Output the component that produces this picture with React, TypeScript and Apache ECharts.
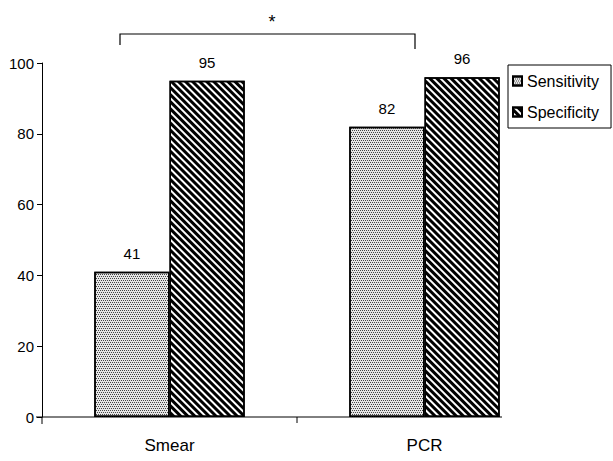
import React, { useEffect, useRef } from "react";
import * as echarts from "echarts";

const categories = ["Smear", "PCR"];
const sensitivity = [41, 82];
const specificity = [95, 96];
const seriesNames = ["Sensitivity", "Specificity"];
const yTicks = { min: 0, max: 100, interval: 20 };

export default function App() {
  const ref = useRef<HTMLDivElement>(null);
  useEffect(() => {
    if (!ref.current) return;
    const chart = echarts.init(ref.current, null, { renderer: "svg" });
    const font = "'Liberation Sans', Arial, sans-serif";
    const label = {
      show: true,
      position: "top" as const,
      distance: 11,
      color: "#000",
      fontSize: 15,
      fontFamily: font,
    };
    chart.setOption({
      animation: false,
      backgroundColor: "#fff",
      grid: { left: 42, right: 61, top: 63, bottom: 44, containLabel: false },
      legend: {
        orient: "vertical",
        left: 508,
        top: 65,
        itemWidth: 9,
        itemHeight: 9,
        itemGap: 15,
        padding: [8, 12, 8, 4],
        borderColor: "#000",
        borderWidth: 1,
        textStyle: { color: "#000", fontSize: 16, fontFamily: font },
        data: seriesNames.map((n) => ({ name: n, icon: "rect" })),
      },
      xAxis: {
        type: "category",
        data: categories,
        axisLine: { show: false },
        axisTick: { show: false },
        axisLabel: { color: "#000", fontSize: 17, fontFamily: font, margin: 20 },
      },
      yAxis: {
        type: "value",
        min: yTicks.min,
        max: yTicks.max,
        interval: yTicks.interval,
        splitLine: { show: false },
        axisLine: { show: true, lineStyle: { color: "#000", width: 1 } },
        axisTick: { show: true, length: 5, lineStyle: { color: "#000" } },
        axisLabel: { color: "#000", fontSize: 15, fontFamily: font, margin: 8 },
      },
      series: [
        {
          name: seriesNames[0],
          type: "bar",
          data: sensitivity,
          barGap: "0%",
          barCategoryGap: "41%",
          label,
          itemStyle: {
            color: "#e6e6e6",
            borderColor: "#000",
            borderWidth: 1.5,
            decal: {
              symbol: "rect",
              symbolSize: 1,
              dashArrayX: [[1, 1], [0, 1, 1, 0]],
              dashArrayY: [1, 1],
              color: "#444",
            },
          },
        },
        {
          name: seriesNames[1],
          type: "bar",
          data: specificity,
          label,
          itemStyle: {
            color: "#fff",
            borderColor: "#000",
            borderWidth: 1.5,
            decal: {
              symbol: "rect",
              symbolSize: 1,
              dashArrayX: [1, 0],
              dashArrayY: [2.2, 1.6],
              rotation: Math.PI / 4,
              color: "#000",
            },
          },
        },
      ],
      graphic: [
        {
          type: "line",
          shape: { x1: 36, y1: 417, x2: 502, y2: 417 },
          style: { stroke: "#000", lineWidth: 1 },
        },
        {
          type: "line",
          shape: { x1: 42, y1: 417, x2: 42, y2: 424 },
          style: { stroke: "#000", lineWidth: 1 },
        },
        {
          type: "line",
          shape: { x1: 297, y1: 417, x2: 297, y2: 423 },
          style: { stroke: "#000", lineWidth: 1 },
        },
        {
          type: "polyline",
          shape: { points: [[120, 45], [120, 34], [415, 34], [415, 49]] },
          style: { stroke: "#000", lineWidth: 1.2, fill: "none" },
        },
        {
          type: "text",
          x: 272,
          y: 22,
          style: {
            text: "*",
            fontSize: 18,
            fontFamily: font,
            fill: "#000",
            align: "center",
            verticalAlign: "middle",
          },
        },
      ],
    });
    return () => chart.dispose();
  }, []);
  return (
    <div
      ref={ref}
      style={{ position: "fixed", left: 0, top: 0, width: 613, height: 461 }}
    />
  );
}
